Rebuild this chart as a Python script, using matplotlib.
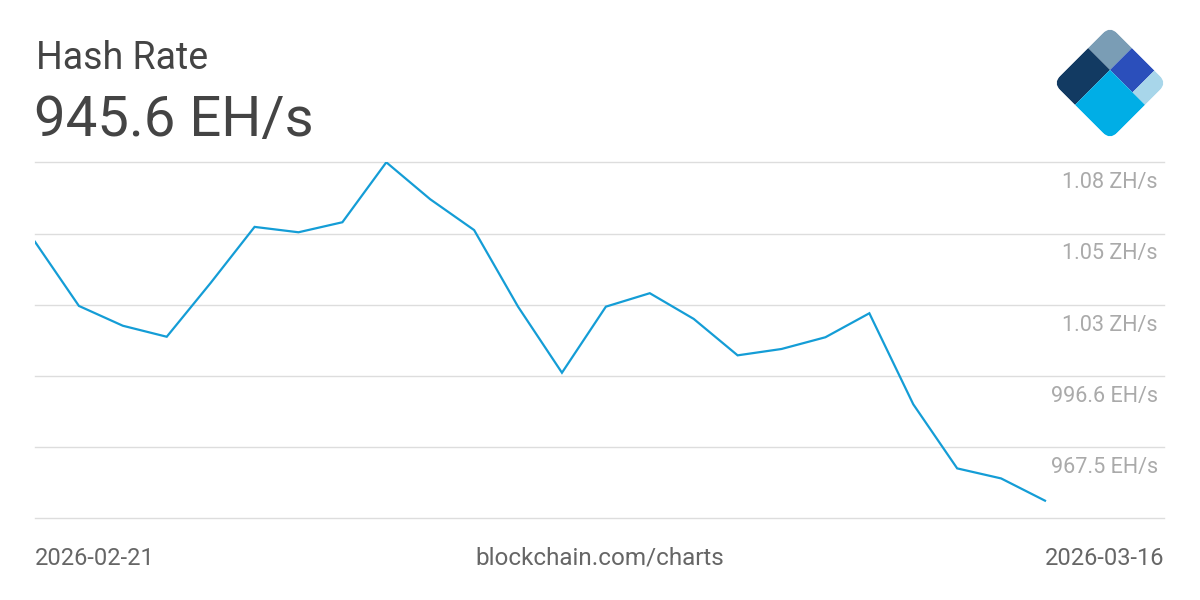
import numpy as np
import pandas as pd
import matplotlib
matplotlib.use('Agg')
import matplotlib.pyplot as plt
import matplotlib.transforms as mtransforms
from matplotlib.patches import FancyBboxPatch, Rectangle

plt.rcParams['font.family'] = ['Roboto', 'DejaVu Sans']

# daily hash rate, EH/s
dates = pd.date_range('2026-02-21', '2026-03-16', freq='D')
hashrate = [1051.4, 1025.2, 1017.1, 1012.6, 1034.6, 1057.5, 1055.3, 1059.4,
            1083.9, 1068.8, 1056.2, 1024.9, 997.9, 1024.9, 1030.4, 1019.9,
            1005.0, 1007.6, 1012.4, 1022.2, 985.0, 958.8, 954.7, 945.6]
yticks = [938.4, 967.5, 996.6, 1025.7, 1054.8, 1083.9]

title = 'Hash Rate'
current = '945.6 EH/s'
source = 'blockchain.com/charts'

line_col = '#149dd6'
grid_col = '#dddddd'


def fmt(v):
    if v >= 1000:
        return f'{v / 1000:.2f} ZH/s'
    return f'{v:.1f} EH/s'


fig = plt.figure(figsize=(12, 6), dpi=100)
fig.patch.set_facecolor('white')

# plot area: x 35..1164 px, y 162..518 px
ax = fig.add_axes([35 / 1200, 1 - 518.3 / 600, 1129 / 1200, 356 / 600])
ax.plot(dates, hashrate, color=line_col, lw=1.6, solid_joinstyle='miter', zorder=3)
span = 23 * 1129 / 1010
ax.set_xlim(dates[0], dates[0] + pd.Timedelta(days=span))
ax.set_ylim(yticks[0], yticks[-1])
for v in yticks:
    ax.axhline(v, color=grid_col, lw=1, zorder=1, clip_on=False)
for s in ax.spines.values():
    s.set_visible(False)
ax.set_xticks([])
ax.set_yticks([])
ax.patch.set_alpha(0)

off = mtransforms.ScaledTranslation(-6 / 100, -20.5 / 100, fig.dpi_scale_trans)
for v in yticks[1:]:
    ax.text(1.0, v, fmt(v), transform=mtransforms.blended_transform_factory(ax.transAxes, ax.transData) + off,
            ha='right', va='center', fontsize=15.6, color='#aaaaaa')

# header
fig.text(36 / 1200, 1 - 69 / 600, title, fontsize=27, color='#444444', ha='left', va='baseline')
fig.text(34 / 1200, 1 - 136 / 600, current, fontsize=40.5, color='#444444', ha='left', va='baseline')

# footer
fig.text(35 / 1200, 1 - 565 / 600, dates[0].strftime('%Y-%m-%d'), fontsize=17, color='#666666',
         ha='left', va='baseline')
fig.text(600 / 1200, 1 - 565 / 600, source, fontsize=17.5, color='#666666', ha='center', va='baseline')
fig.text(1164 / 1200, 1 - 565 / 600, dates[-1].strftime('%Y-%m-%d'), fontsize=17, color='#666666',
         ha='right', va='baseline')

# logo, drawn in pixel coordinates of the image
lax = fig.add_axes([0, 0, 1, 1])
lax.set_xlim(0, 1200)
lax.set_ylim(600, 0)
lax.axis('off')
lax.patch.set_alpha(0)
uv = mtransforms.Affine2D(np.array([[57.0, -57.0, 1110.0], [57.0, 57.0, 26.0], [0, 0, 1]])) + lax.transData
clip = FancyBboxPatch((0, 0), 1, 1, boxstyle='round,pad=0,rounding_size=0.13',
                      transform=uv, facecolor='none', edgecolor='none')
lax.add_patch(clip)
a, b = 0.385, 0.78
pieces = [((0, 0), a, a, '#7a9db5'),
          ((0, a), a, 1 - a, '#123a62'),
          ((a, 0), b - a, a, '#2b4fbb'),
          ((b, 0), 1 - b, a, '#a8d6ea'),
          ((a, a), 1 - a, 1 - a, '#00aee6')]
for xy, w, h, c in pieces:
    r = Rectangle(xy, w, h, transform=uv, facecolor=c, edgecolor='none')
    lax.add_patch(r)
    r.set_clip_path(clip)

fig.savefig('out.png', dpi=100, facecolor='white')
